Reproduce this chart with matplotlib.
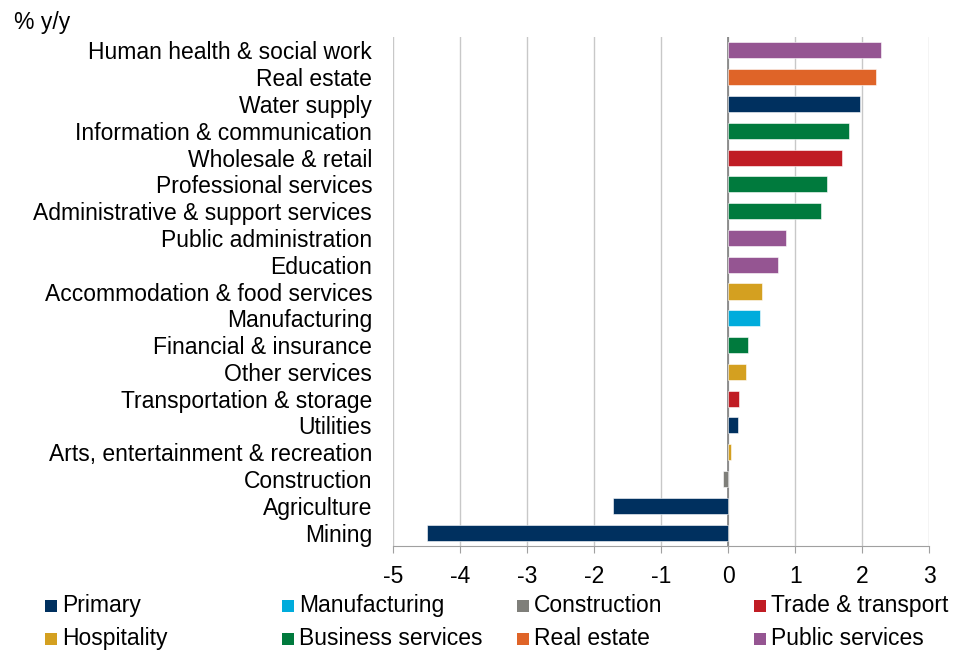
import matplotlib.pyplot as plt
from matplotlib.patches import Rectangle

plt.rcParams['font.family'] = ['Liberation Sans', 'DejaVu Sans']

#-- Data: industries (top to bottom) with growth, % y/y
industries = [
    'Human health & social work', 'Real estate', 'Water supply',
    'Information & communication', 'Wholesale & retail', 'Professional services',
    'Administrative & support services', 'Public administration', 'Education',
    'Accommodation & food services', 'Manufacturing', 'Financial & insurance',
    'Other services', 'Transportation & storage', 'Utilities',
    'Arts, entertainment & recreation', 'Construction', 'Agriculture', 'Mining',
]
growth = [2.28, 2.20, 1.97, 1.80, 1.70, 1.47, 1.39, 0.86, 0.75,
          0.50, 0.48, 0.29, 0.27, 0.16, 0.14, 0.04, -0.075, -1.72, -4.50]
sector = [
    'Public services', 'Real estate', 'Primary', 'Business services',
    'Trade & transport', 'Business services', 'Business services',
    'Public services', 'Public services', 'Hospitality', 'Manufacturing',
    'Business services', 'Hospitality', 'Trade & transport', 'Primary',
    'Hospitality', 'Construction', 'Primary', 'Primary',
]

#-- Sector colours (legend order)
sectors = ['Primary', 'Manufacturing', 'Construction', 'Trade & transport',
           'Hospitality', 'Business services', 'Real estate', 'Public services']
sector_colours = ['#00305f', '#00acdc', '#7f7f7a', '#c01c24',
                  '#d4a020', '#007a3d', '#df6428', '#955592']
colour_map = dict(zip(sectors, sector_colours))

FS = 16.5
W, H = 968, 650

#-- Plot
fig = plt.figure(figsize=(W / 100, H / 100), dpi=100)
ax = fig.add_axes([0.406, 0.160, 0.554, 0.783])

n = len(industries)
ypos = [n - 1 - i for i in range(n)]
ax.barh(ypos, growth, height=0.6, color=[colour_map[s] for s in sector],
        edgecolor='white', linewidth=0.4, zorder=3)

ax.set_xlim(-5, 3)
ax.set_ylim(-0.5, n - 0.5)
ax.set_xticks(range(-5, 4))
ax.set_xticklabels([str(v) for v in range(-5, 4)], fontsize=FS)
ax.set_yticks(ypos)
ax.set_yticklabels(industries, fontsize=FS)
ax.tick_params(axis='y', length=0, pad=15)
ax.tick_params(axis='x', length=5, color='#a0a0a0', pad=9, direction='out')

ax.grid(axis='x', color='#c8c8c8', linewidth=1, zorder=0)
ax.axvline(0, color='#808080', linewidth=1.2, zorder=2)
for side in ['top', 'right', 'left']:
    ax.spines[side].set_visible(False)
ax.spines['bottom'].set_color('#a0a0a0')

fig.text(14 / W, 1 - 22 / H, '% y/y', fontsize=FS, va='center', ha='left')

#-- Legend: 2 rows x 4 columns of small squares sitting on the text baseline
col_x = [45, 282, 517, 754]
row_base = [612, 645]
sq = 12
for i, (name, col) in enumerate(zip(sectors, sector_colours)):
    x0 = col_x[i % 4]
    yb = row_base[i // 4]
    fig.patches.append(Rectangle((x0 / W, 1 - yb / H), sq / W, sq / H,
                                 transform=fig.transFigure, facecolor=col,
                                 edgecolor='none'))
    fig.text((x0 + sq + 5) / W, 1 - yb / H, name, fontsize=FS,
             va='baseline', ha='left')

fig.savefig('out.png', dpi=100)
